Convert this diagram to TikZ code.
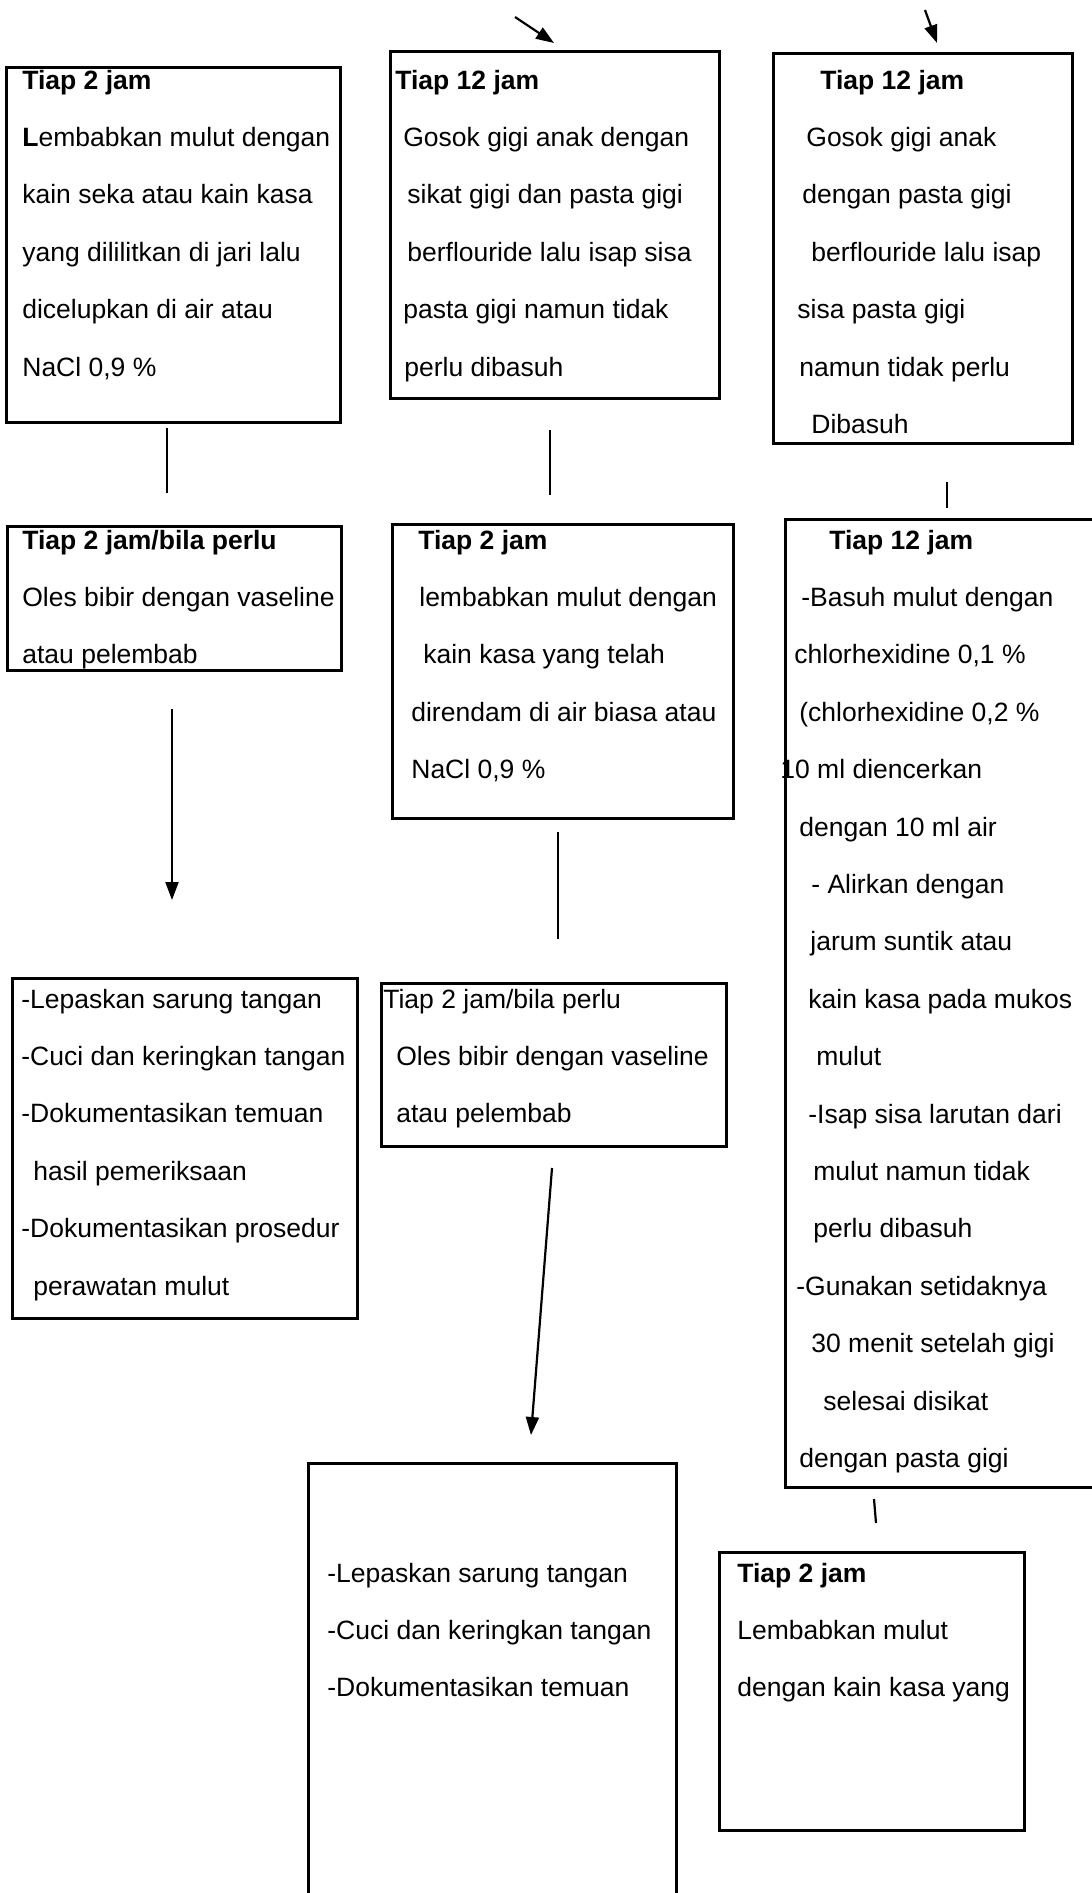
\documentclass[tikz,border=0pt]{standalone}
\usepackage{fontspec}
\setmainfont{Liberation Sans}
\usetikzlibrary{arrows.meta}

\newcommand{\cardlines}[1]{\begin{tabular}[t]{@{}l@{}}#1\end{tabular}}

\tikzset{every picture/.style={line width=0.75pt}}
\tikzset{
  card/.style={draw, line width=3pt, anchor=north west, inner sep=0pt, outer sep=0pt},
  cardtext/.style={anchor=base west, inner sep=0pt, font=\fontsize{26.5}{57.4}\selectfont},
  link/.style={line width=2.2pt},
  arrowlink/.style={line width=2.2pt, -{Triangle[length=18pt,width=13pt]}}
}

\begin{document}
\begin{tikzpicture}[x=1pt,y=1pt,yscale=-1,xscale=1]
\useasboundingbox (0,0) rectangle (1092,1893);
\clip (0,0) rectangle (1092,1893);

%Shape: Rectangle
\node[card, minimum width=334pt, minimum height=355pt] (lembab) at (6,67) {};
%Shape: Rectangle
\node[card, minimum width=329pt, minimum height=347pt] (gosokanak) at (390,51) {};
%Shape: Rectangle
\node[card, minimum width=299pt, minimum height=390pt] (gosokpasta) at (773,53) {};
%Shape: Rectangle
\node[card, minimum width=334pt, minimum height=144pt] (olesbibir) at (7,526) {};
%Shape: Rectangle
\node[card, minimum width=341pt, minimum height=294pt] (kasabiasa) at (392,524) {};
%Shape: Rectangle
\node[card, minimum width=320pt, minimum height=968pt] (chlorhex) at (785,519) {};
%Shape: Rectangle
\node[card, minimum width=345pt, minimum height=340pt] (lepas) at (12,978) {};
%Shape: Rectangle
\node[card, minimum width=345pt, minimum height=163pt] (olesbibirdua) at (381,983) {};
%Shape: Rectangle
\node[card, minimum width=368pt, minimum height=445pt] (lepasdua) at (308,1463) {};
%Shape: Rectangle
\node[card, minimum width=305pt, minimum height=278pt] (kasadua) at (719,1552) {};

%Straight Lines
\coordinate (inB1) at (515,17);
\coordinate (inB2) at (554,43);
\draw[arrowlink] (inB1) -- (inB2);
%Straight Lines
\coordinate (inC1) at (925,10);
\coordinate (inC2) at (937,43);
\draw[arrowlink] (inC1) -- (inC2);
%Straight Lines
\coordinate (AD1) at (167,428);
\coordinate (AD2) at (167,493);
\draw[link] (AD1) -- (AD2);
%Straight Lines
\coordinate (BE1) at (550,430);
\coordinate (BE2) at (550,495);
\draw[link] (BE1) -- (BE2);
%Straight Lines
\coordinate (CF1) at (947,482);
\coordinate (CF2) at (947,508);
\draw[link] (CF1) -- (CF2);
%Straight Lines
\coordinate (DG1) at (172,709);
\coordinate (DG2) at (172,900);
\draw[arrowlink] (DG1) -- (DG2);
%Straight Lines
\coordinate (EH1) at (558,832);
\coordinate (EH2) at (558,939);
\draw[link] (EH1) -- (EH2);
%Straight Lines
\coordinate (HI1) at (552,1168);
\coordinate (HI2) at (531,1435);
\draw[arrowlink] (HI1) -- (HI2);
%Straight Lines
\coordinate (FJ1) at (874,1499);
\coordinate (FJ2) at (876,1523);
\draw[link] (FJ1) -- (FJ2);

% Text Node
\node[cardtext] (lembab-t) at (22,89) {\cardlines{\textbf{Tiap 2 jam}\\
  \textbf{L}embabkan mulut dengan\\
  kain seka atau kain kasa\\
  yang dililitkan di jari lalu\\
  dicelupkan di air atau\\
  NaCl 0,9 \%}};
% Text Node
\node[cardtext] (gosokanak-t) at (395,89) {\cardlines{\textbf{Tiap 12 jam}\\
  \hspace*{8pt}Gosok gigi anak dengan\\
  \hspace*{12pt}sikat gigi dan pasta gigi\\
  \hspace*{12pt}berflouride lalu isap sisa\\
  \hspace*{8pt}pasta gigi namun tidak\\
  \hspace*{9pt}perlu dibasuh}};
% Text Node
\node[cardtext] (gosokpasta-t) at (797,89) {\cardlines{\hspace*{23pt}\textbf{Tiap 12 jam}\\
  \hspace*{9pt}Gosok gigi anak\\
  \hspace*{5pt}dengan pasta gigi\\
  \hspace*{14pt}berflouride lalu isap\\
  sisa pasta gigi\\
  \hspace*{2pt}namun tidak perlu\\
  \hspace*{14pt}Dibasuh}};
% Text Node
\node[cardtext] (olesbibir-t) at (22,549) {\cardlines{\textbf{Tiap 2 jam/bila perlu}\\
  Oles bibir dengan vaseline\\
  atau pelembab}};
% Text Node
\node[cardtext] (kasabiasa-t) at (411,549) {\cardlines{\hspace*{7pt}\textbf{Tiap 2 jam}\\
  \hspace*{8pt}lembabkan mulut dengan\\
  \hspace*{12pt}kain kasa yang telah\\
  direndam di air biasa atau\\
  NaCl 0,9 \%}};
% Text Node
\node[cardtext] (chlorhex-t) at (780,549) {\cardlines{\hspace*{49pt}\textbf{Tiap 12 jam}\\
  \hspace*{21pt}-Basuh mulut dengan\\
  \hspace*{14pt}chlorhexidine 0,1 \%\\
  \hspace*{19pt}(chlorhexidine 0,2 \%\\
  10 ml diencerkan\\
  \hspace*{19pt}dengan 10 ml air\\
  \hspace*{31pt}- Alirkan dengan\\
  \hspace*{30pt}jarum suntik atau\\
  \hspace*{28pt}kain kasa pada mukos\\
  \hspace*{36pt}mulut\\
  \hspace*{28pt}-Isap sisa larutan dari\\
  \hspace*{33pt}mulut namun tidak\\
  \hspace*{33pt}perlu dibasuh\\
  \hspace*{16pt}-Gunakan setidaknya\\
  \hspace*{31pt}30 menit setelah gigi\\
  \hspace*{43pt}selesai disikat\\
  \hspace*{19pt}dengan pasta gigi}};
% Text Node
\node[cardtext] (lepas-t) at (21,1008) {\cardlines{-Lepaskan sarung tangan\\
  -Cuci dan keringkan tangan\\
  -Dokumentasikan temuan\\
  \hspace*{12pt}hasil pemeriksaan\\
  -Dokumentasikan prosedur\\
  \hspace*{12pt}perawatan mulut}};
% Text Node
\node[cardtext] (olesbibirdua-t) at (383,1008) {\cardlines{Tiap 2 jam/bila perlu\\
  \hspace*{13pt}Oles bibir dengan vaseline\\
  \hspace*{13pt}atau pelembab}};
% Text Node
\node[cardtext] (lepasdua-t) at (327,1582) {\cardlines{-Lepaskan sarung tangan\\
  -Cuci dan keringkan tangan\\
  -Dokumentasikan temuan}};
% Text Node
\node[cardtext] (kasadua-t) at (737,1582) {\cardlines{\textbf{Tiap 2 jam}\\
  Lembabkan mulut\\
  dengan kain kasa yang}};

\end{tikzpicture}
\end{document}
